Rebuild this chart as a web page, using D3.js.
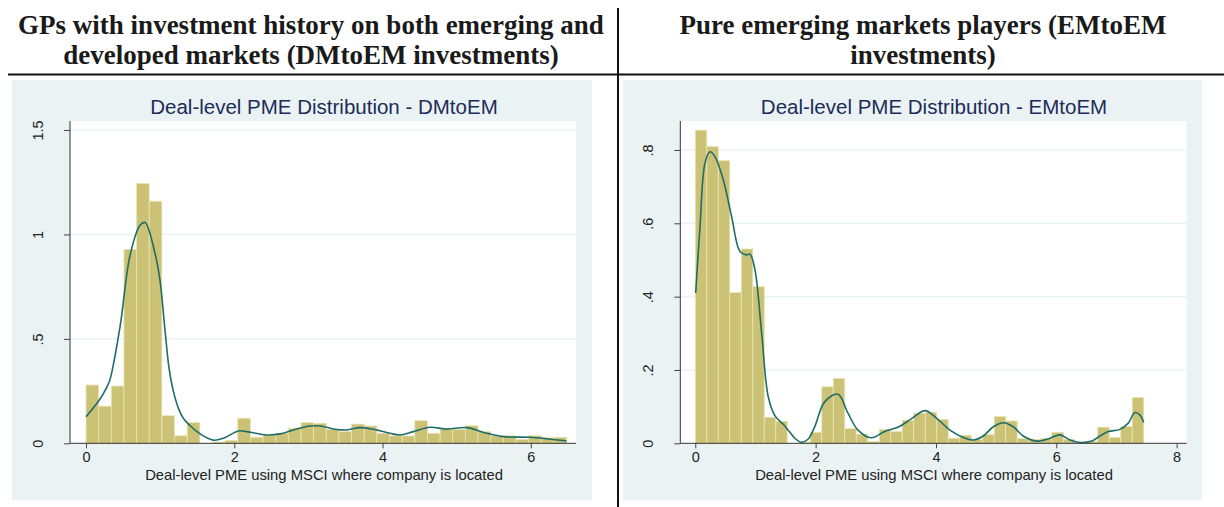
<!DOCTYPE html>
<html>
<head>
<meta charset="utf-8">
<script src="https://cdn.jsdelivr.net/npm/d3@7"></script>
<style>
  body { margin: 0; background: #fff; }
  svg { display: block; }
</style>
</head>
<body>
<div id="chart"></div>
<script>
// headings above each panel
const headLeft = ["GPs with investment history on both emerging and", "developed markets (DMtoEM investments)"];
const headRight = ["Pure emerging markets players (EMtoEM", "investments)"];

// DMtoEM histogram (density per bin), bins start at 0
const dmBinWidth = 0.1706;
const dmBars = [0.279, 0.178, 0.274, 0.928, 1.244, 1.159, 0.132, 0.036,
  0.099, 0, 0.006, 0.014, 0.12, 0.029, 0.04, 0.048, 0.072, 0.099, 0.096, 0.067,
  0.056, 0.092, 0.083, 0.048, 0.036, 0.035, 0.108, 0.048, 0.067, 0.067, 0.084,
  0.056, 0.036, 0.036, 0.019, 0.036, 0.027, 0.029];
// kernel density curve
const dmKde = [[0, 0.127], [0.1, 0.17], [0.189, 0.212], [0.279, 0.268], [0.324, 0.306],
  [0.459, 0.558], [0.594, 0.9], [0.729, 1.044], [0.796, 1.057], [0.931, 0.909],
  [0.998, 0.78], [1.066, 0.54], [1.12, 0.36], [1.178, 0.25], [1.25, 0.165],
  [1.313, 0.12], [1.403, 0.085], [1.538, 0.045], [1.718, 0.015], [1.853, 0.024],
  [2.055, 0.059], [2.168, 0.056], [2.438, 0.04], [2.617, 0.045], [2.797, 0.064],
  [3.022, 0.083], [3.157, 0.083], [3.382, 0.066], [3.517, 0.064], [3.697, 0.075],
  [3.877, 0.067], [3.967, 0.06], [4.102, 0.048], [4.237, 0.04], [4.416, 0.056],
  [4.641, 0.077], [4.866, 0.068], [5.136, 0.075], [5.406, 0.048], [5.63, 0.032],
  [5.99, 0.029], [6.216, 0.022], [6.485, 0.011]];

// EMtoEM histogram
const emBinWidth = 0.1911;
const emBars = [0.854, 0.809, 0.771, 0.411, 0.53, 0.427, 0.071, 0.06, 0, 0.003,
  0.03, 0.154, 0.177, 0.04, 0.025, 0.005, 0.038, 0.032, 0.063, 0.082, 0.085,
  0.065, 0.014, 0.022, 0.011, 0.024, 0.073, 0.061, 0.013, 0.011, 0.013,
  0.03, 0.011, 0, 0.005, 0.044, 0.016, 0.046, 0.125];
const emKde = [[0.007, 0.41], [0.078, 0.59], [0.161, 0.764], [0.244, 0.795], [0.327, 0.782],
  [0.466, 0.718], [0.604, 0.618], [0.743, 0.523], [0.853, 0.514], [0.909, 0.516],
  [0.992, 0.473], [1.103, 0.3], [1.213, 0.127], [1.325, 0.075], [1.462, 0.052],
  [1.574, 0.03], [1.652, 0.014], [1.762, 0.003], [1.873, 0.011], [1.984, 0.045],
  [2.15, 0.113], [2.372, 0.134], [2.538, 0.082], [2.704, 0.036], [2.925, 0.015],
  [3.147, 0.032], [3.385, 0.045], [3.6, 0.068], [3.818, 0.089], [4.012, 0.068],
  [4.233, 0.036], [4.454, 0.016], [4.62, 0.009], [4.786, 0.02], [4.953, 0.045],
  [5.119, 0.056], [5.285, 0.045], [5.451, 0.02], [5.674, 0.006], [5.895, 0.014],
  [6.061, 0.023], [6.227, 0.009], [6.394, 0.002], [6.588, 0.006], [6.726, 0.02],
  [6.864, 0.032], [7.058, 0.038], [7.196, 0.055], [7.307, 0.084], [7.39, 0.077],
  [7.452, 0.057]];

const dmXTicks = [0, 2, 4, 6];
const dmYTicks = [0, 0.5, 1, 1.5];
const emXTicks = [0, 2, 4, 6, 8];
const emYTicks = [0, 0.2, 0.4, 0.6, 0.8];

const xTitle = "Deal-level PME using MSCI where company is located";

const W = 1224, H = 507;
const svg = d3.select("#chart").append("svg").attr("width", W).attr("height", H);

// headings
function heading(lines, cx) {
  svg.append("text")
    .attr("text-anchor", "middle")
    .attr("font-family", "Liberation Serif")
    .attr("font-weight", "bold")
    .attr("font-size", 27)
    .attr("fill", "#1a1a1a")
    .selectAll("tspan").data(lines).enter().append("tspan")
    .attr("x", cx)
    .attr("y", (d, i) => 34 + i * 30)
    .text(d => d);
}
heading(headLeft, 311);
heading(headRight, 923);

svg.append("line").attr("x1", 8).attr("x2", W).attr("y1", 74.5).attr("y2", 74.5)
  .attr("stroke", "#111").attr("stroke-width", 2);
svg.append("line").attr("x1", 618).attr("x2", 618).attr("y1", 8).attr("y2", H)
  .attr("stroke", "#111").attr("stroke-width", 2);

function fmt(v) {
  return v === 0 ? "0" : String(v).replace(/^0\./, ".");
}

function panel(cfg) {
  const g = svg.append("g");
  g.append("rect").attr("x", cfg.bg[0]).attr("y", 80)
    .attr("width", cfg.bg[1] - cfg.bg[0]).attr("height", 420).attr("fill", "#eaf2f3");

  const x = d3.scaleLinear().domain(cfg.xDom).range([cfg.left, cfg.right]);
  const y = d3.scaleLinear().domain(cfg.yDom).range([443.3, 121]);

  g.append("rect").attr("x", cfg.left).attr("y", 121)
    .attr("width", cfg.right - cfg.left).attr("height", 443.3 - 121).attr("fill", "#fff");

  // grid
  g.selectAll(".grid").data(cfg.yTicks.filter(d => d > 0)).enter().append("line")
    .attr("x1", cfg.left).attr("x2", cfg.right)
    .attr("y1", d => y(d)).attr("y2", d => y(d))
    .attr("stroke", "#eaf2f3").attr("stroke-width", 1.5);

  // bars
  g.selectAll(".bar").data(cfg.bars).enter().append("rect")
    .attr("x", (d, i) => x(i * cfg.bw))
    .attr("width", (d, i) => x((i + 1) * cfg.bw) - x(i * cfg.bw))
    .attr("y", d => y(d))
    .attr("height", d => y(0) - y(d))
    .attr("fill", "#cbc275")
    .attr("stroke", "#e9e5b6").attr("stroke-width", 0.8);

  // density
  const line = d3.line().x(d => x(d[0])).y(d => y(d[1])).curve(d3.curveCatmullRom.alpha(0.5));
  g.append("path").datum(cfg.kde).attr("d", line)
    .attr("fill", "none").attr("stroke", "#1f6d69").attr("stroke-width", 1.6);

  // axes
  const xAxis = d3.axisBottom(x).tickValues(cfg.xTicks).tickSize(5).tickPadding(3).tickFormat(fmt);
  const gx = g.append("g").attr("transform", "translate(0,443.3)").call(xAxis);
  gx.select(".domain").attr("stroke", "#333").attr("d", `M${cfg.left},0H${cfg.right}`);
  gx.selectAll(".tick line").attr("stroke", "#444");
  gx.selectAll("text").attr("font-family", "Liberation Sans").attr("font-size", 14.5).attr("fill", "#222");

  const yAxis = d3.axisLeft(y).tickValues(cfg.yTicks).tickSize(6).tickPadding(0).tickFormat(fmt);
  const gy = g.append("g").attr("transform", `translate(${cfg.left},0)`).call(yAxis);
  gy.select(".domain").attr("stroke", "#333").attr("d", "M0,121V443.3");
  gy.selectAll(".tick line").attr("stroke", "#444");
  gy.selectAll("text")
    .attr("font-family", "Liberation Sans").attr("font-size", 14.5).attr("fill", "#222")
    .attr("x", 0).attr("dy", null)
    .attr("text-anchor", "middle")
    .attr("transform", "translate(-27,0) rotate(-90)");

  g.append("text").attr("x", cfg.titleX).attr("y", 114)
    .attr("text-anchor", "middle").attr("font-family", "Liberation Sans").attr("font-size", 20.5)
    .attr("fill", "#1c2c5a").text(cfg.title);

  g.append("text").attr("x", cfg.xTitleX).attr("y", 480)
    .attr("text-anchor", "middle").attr("font-family", "Liberation Sans").attr("font-size", 14.8)
    .attr("fill", "#222").text(xTitle);
}

panel({
  bg: [12, 592], left: 70, right: 576, xDom: [-0.216, 6.61], yDom: [0, 1.543],
  bars: dmBars, bw: dmBinWidth, kde: dmKde, xTicks: dmXTicks, yTicks: dmYTicks,
  title: "Deal-level PME Distribution - DMtoEM", titleX: 324, xTitleX: 324
});
panel({
  bg: [623, 1202], left: 680.3, right: 1186.7, xDom: [-0.249, 8.167], yDom: [0, 0.879],
  bars: emBars, bw: emBinWidth, kde: emKde, xTicks: emXTicks, yTicks: emYTicks,
  title: "Deal-level PME Distribution - EMtoEM", titleX: 934, xTitleX: 934
});
</script>
</body>
</html>
